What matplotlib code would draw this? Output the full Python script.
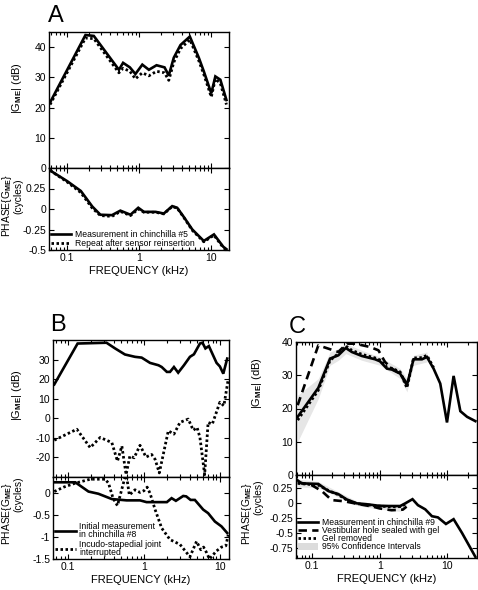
import numpy as np
import matplotlib
matplotlib.use('Agg')
import matplotlib.pyplot as plt
from matplotlib.ticker import FixedLocator, NullFormatter, LogLocator, FixedFormatter
from matplotlib.patches import Patch
from matplotlib.lines import Line2D

plt.rcParams['font.family'] = ['Liberation Sans', 'DejaVu Sans']
plt.rcParams['mathtext.fontset'] = 'custom'
plt.rcParams['mathtext.rm'] = 'Liberation Sans'
plt.rcParams['mathtext.bf'] = 'Liberation Sans:bold'
plt.rcParams['mathtext.it'] = 'Liberation Sans:italic'

# ---------------- Panel A data ----------------
a_mag_freq = [0.058, 0.18, 0.235, 0.525, 0.60, 0.745, 0.89, 1.11, 1.37, 1.75, 2.26, 2.59, 3.04,
              3.77, 5.08, 6.77, 7.94, 10.1, 11.5, 13.5, 16.4]
a_mag_meas = [21.7, 44.0, 43.7, 32.5, 34.8, 33.3, 31.1, 34.2, 32.5, 34.0, 33.3, 30.6, 36.5,
              40.7, 43.5, 36.5, 32.0, 24.7, 30.3, 29.2, 22.5]
a_mag_rep = [21.0, 43.0, 42.8, 31.5, 33.0, 32.0, 29.5, 31.5, 30.5, 32.0, 31.5, 29.0, 35.0,
             39.5, 42.5, 35.5, 31.0, 23.5, 29.5, 28.0, 21.0]
a_ph_freq = [0.058, 0.1, 0.155, 0.224, 0.29, 0.42, 0.55, 0.76, 0.975, 1.17, 1.7, 2.21, 2.89,
             3.39, 4.17, 5.5, 7.94, 11.0, 14.8, 16.4]
a_ph_meas = [0.47, 0.34, 0.22, 0.03, -0.07, -0.075, -0.02, -0.07, 0.015, -0.035, -0.035, -0.055,
             0.035, 0.015, -0.095, -0.25, -0.39, -0.31, -0.46, -0.49]
a_ph_rep = [0.47, 0.33, 0.20, 0.01, -0.08, -0.09, -0.03, -0.08, 0.0, -0.04, -0.04, -0.06,
            0.03, 0.01, -0.10, -0.26, -0.40, -0.32, -0.47, -0.50]

# ---------------- Panel B data ----------------
b_mag_freq = [0.0655, 0.133, 0.32, 0.415, 0.56, 0.76, 0.93, 1.2, 1.55, 1.71, 2.0, 2.2, 2.48,
              2.82, 3.36, 4.03, 4.55, 5.46, 5.9, 6.45, 7.16, 9.05, 10.0, 11.1, 12.5]
b_mag_init = [17.3, 38.2, 38.6, 35.7, 32.6, 31.4, 31.0, 28.3, 27.1, 26.2, 23.7, 23.7, 26.2,
              23.3, 27.1, 31.4, 32.7, 38.2, 38.6, 35.7, 36.9, 28.3, 26.5, 22.8, 30.5]
b_mag_isj_freq = [0.0655, 0.13, 0.195, 0.264, 0.376, 0.446, 0.51, 0.58, 0.65, 0.74, 0.885, 1.06,
                  1.26, 1.4, 1.59, 2.09, 2.48, 2.98, 3.83, 4.46, 5.01, 5.46, 6.3, 7.0, 7.95,
                  10.0, 11.3, 12.9]
b_mag_isj = [-11.2, -5.6, -15.0, -9.8, -12.4, -21.9, -14.2, -28.8, -19.3, -20.2, -13.8, -19.8,
             -18.5, -21.0, -27.9, -6.4, -8.1, -2.1, -0.4, -6.1, -4.7, -9.8, -28.8, -2.1, -3.0,
             8.2, 6.4, 20.0]
b_ph_freq = [0.0655, 0.124, 0.185, 0.25, 0.376, 0.59, 0.885, 1.08, 2.0, 2.31, 2.63, 3.29, 3.6,
             4.11, 4.68, 6.03, 7.0, 8.6, 10.5, 12.5]
b_ph_init = [0.24, 0.24, 0.03, -0.02, -0.14, -0.17, -0.17, -0.21, -0.21, -0.12, -0.18, -0.07,
             -0.08, -0.16, -0.16, -0.38, -0.46, -0.65, -0.76, -0.91]
b_ph_isj_freq = [0.0655, 0.087, 0.124, 0.195, 0.307, 0.34, 0.39, 0.446, 0.58, 0.64, 0.76, 0.885,
                 1.0, 1.1, 1.2, 1.4, 1.71, 2.2, 2.98, 4.03, 4.93, 5.6, 6.1, 6.7, 7.3, 9.0,
                 10.5, 12.0, 12.9]
b_ph_isj = [0.03, 0.13, 0.22, 0.31, 0.31, 0.22, -0.12, -0.29, 0.45, -0.05, 0.07, 0.01, 0.05,
            0.13, -0.01, -0.38, -0.8, -1.06, -1.17, -1.45, -1.1, -1.29, -1.23, -1.36, -1.5,
            -1.32, -1.23, -1.2, -0.95]

# ---------------- Panel C data ----------------
c_mag_freq = [0.0614, 0.124, 0.185, 0.245, 0.316, 0.388, 0.545, 0.857, 1.01, 1.28, 1.52, 2.01,
              2.53, 3.17, 4.22, 5.0, 6.27, 7.87, 9.9, 12.4, 15.6, 19.6, 26.0]
c_mag_meas = [17.5, 26.2, 35.0, 36.0, 38.2, 37.0, 35.8, 34.8, 34.2, 32.0, 31.7, 30.5,
              27.0, 34.8, 34.8, 35.5, 32.0, 27.5, 15.8, 29.8, 19.2, 17.5, 16.2]
c_mag_gel_freq = [0.0614, 0.124, 0.245, 0.327, 0.434, 0.72, 0.96, 1.2, 1.52, 2.01, 2.53]
c_mag_gel = [21.0, 39.0, 37.0, 39.5, 39.5, 38.5, 37.5, 34.0, 32.0, 30.5, 27.5]
c_mag_rem_freq = [0.0614, 0.124, 0.185, 0.245, 0.316, 0.388, 0.545, 0.857, 1.01, 1.28, 1.52,
                  2.01, 2.53, 3.17, 4.22, 5.0, 6.27]
c_mag_rem = [16.5, 25.5, 34.5, 36.5, 38.8, 37.5, 36.3, 35.2, 34.6, 32.4, 32.1, 31.0, 26.2,
             35.2, 35.3, 36.0, 32.3]
c_mag_ci_freq = [0.0614, 0.124, 0.185, 0.245, 0.316, 0.545, 1.01, 2.01, 2.53, 3.17, 5.0]
c_mag_ci_lo = [10.0, 23.0, 33.0, 34.5, 36.5, 34.5, 33.0, 29.0, 25.0, 33.0, 34.0]
c_mag_ci_hi = [24.0, 29.0, 37.0, 38.0, 39.5, 37.5, 35.5, 32.0, 29.0, 36.0, 37.0]

c_ph_freq = [0.0614, 0.07, 0.124, 0.175, 0.245, 0.327, 0.46, 0.645, 0.96, 1.35, 2.01, 2.39,
             3.06, 3.68, 4.72, 5.93, 7.27, 9.55, 12.4, 16.5, 21.2, 26.0]
c_ph_meas = [0.38, 0.33, 0.32, 0.2, 0.15, 0.06, -0.005, -0.02, -0.045, -0.05, -0.05, -0.005,
             0.065, -0.035, -0.105, -0.22, -0.24, -0.35, -0.27, -0.5, -0.72, -0.9]
c_ph_gel_freq = [0.0614, 0.099, 0.14, 0.195, 0.3, 0.5, 0.8, 1.0, 1.5, 2.2, 2.5]
c_ph_gel = [0.35, 0.3, 0.2, 0.05, 0.03, -0.02, -0.06, -0.09, -0.12, -0.11, -0.06]
c_ph_rem_freq = [0.0614, 0.124, 0.175, 0.245, 0.327, 0.46, 0.645, 0.96, 1.35, 2.01, 2.39]
c_ph_rem = [0.33, 0.30, 0.21, 0.14, 0.05, -0.01, -0.03, -0.05, -0.06, -0.06, -0.02]
c_ph_ci_freq = [0.0614, 0.124, 0.245, 0.46, 0.96, 2.01, 2.5]
c_ph_ci_lo = [0.27, 0.26, 0.10, -0.04, -0.10, -0.14, -0.06]
c_ph_ci_hi = [0.40, 0.36, 0.19, 0.03, -0.01, -0.02, 0.02]

x_ticks = [0.1, 1, 10]
x_tick_labels = ['0.1', '1', '10']

# ---------------- figure ----------------
W, H = 478, 590
fig = plt.figure(figsize=(W / 100, H / 100), dpi=100)


def ax_px(left, right, top, bottom):
    return fig.add_axes([left / W, 1 - bottom / H, (right - left) / W, (bottom - top) / H])


TICK_FS = 7.5
LAB_FS = 8
LEG_FS = 6.2
LW = 1.9
DOT = dict(lw=2.0, linestyle=(0, (0.9, 0.9)), color='black')
SOLID = dict(lw=LW, color='black', solid_joinstyle='miter')
DASH = dict(lw=1.9, linestyle=(0, (3.2, 2.0)), color='black')
CI_COLOR = '#e6e6e6'


def style(ax, xlim, ylim, yticks, ylabels, xlabels):
    ax.set_xscale('log')
    ax.set_xlim(*xlim)
    ax.set_ylim(*ylim)
    ax.xaxis.set_major_locator(FixedLocator(x_ticks))
    ax.xaxis.set_minor_locator(LogLocator(base=10, subs=np.arange(2, 10)))
    ax.xaxis.set_minor_formatter(NullFormatter())
    if xlabels:
        ax.xaxis.set_major_formatter(FixedFormatter(x_tick_labels))
    else:
        ax.xaxis.set_major_formatter(NullFormatter())
    ax.yaxis.set_major_locator(FixedLocator(yticks))
    ax.yaxis.set_major_formatter(FixedFormatter(ylabels))
    ax.tick_params(which='both', direction='in', top=True, right=True, labelsize=TICK_FS,
                   width=0.8, pad=2)
    ax.tick_params(which='major', length=3.5)
    ax.tick_params(which='minor', length=2)
    for s in ax.spines.values():
        s.set_linewidth(1.0)


# ---- Panel A ----
axAm = ax_px(49, 229, 32, 168)
axAp = ax_px(49, 229, 168, 250)
axAm.plot(a_mag_freq, a_mag_rep, **DOT)
axAm.plot(a_mag_freq, a_mag_meas, **SOLID)
style(axAm, (0.056, 17.8), (0, 45), [0, 10, 20, 30, 40], ['0', '10', '20', '30', '40'], False)
axAp.plot(a_ph_freq, a_ph_rep, **DOT)
axAp.plot(a_ph_freq, a_ph_meas, **SOLID)
style(axAp, (0.056, 17.8), (-0.5, 0.5), [0.25, 0, -0.25, -0.5], ['0.25', '0', '-0.25', '-0.5'], True)
legA = axAp.legend(handles=[Line2D([], [], **SOLID), Line2D([], [], **DOT)],
                   labels=['Measurement in chinchilla #5', 'Repeat after sensor reinsertion'],
                   loc='lower left', bbox_to_anchor=(0.0, 0.0), frameon=False, fontsize=LEG_FS,
                   handlelength=2.4, handletextpad=0.45, labelspacing=0.0, borderpad=0.1,
                   borderaxespad=0.1)

# ---- Panel B ----
axBm = ax_px(53, 229, 340, 477)
axBp = ax_px(53, 229, 477, 559)
axBm.plot(b_mag_isj_freq, b_mag_isj, **DOT)
axBm.plot(b_mag_freq, b_mag_init, **SOLID)
style(axBm, (0.063, 13.2), (-30, 40), [-20, -10, 0, 10, 20, 30],
      ['-20', '-10', '0', '10', '20', '30'], False)
axBp.plot(b_ph_isj_freq, b_ph_isj, **DOT)
axBp.plot(b_ph_freq, b_ph_init, **SOLID)
style(axBp, (0.063, 13.2), (-1.5, 0.36), [0, -0.5, -1, -1.5], ['0', '-0.5', '-1', '-1.5'], True)
legB = axBp.legend(handles=[Line2D([], [], **SOLID), Line2D([], [], **DOT)],
                   labels=['Initial measurement\nin chinchilla #8',
                           'Incudo-stapedial joint\ninterrupted'],
                   loc='lower left', bbox_to_anchor=(0.0, 0.0), frameon=False, fontsize=LEG_FS,
                   handlelength=2.4, handletextpad=0.4, labelspacing=0.2, borderpad=0.1,
                   borderaxespad=0.15)
for t in legB.get_texts():
    t.set_linespacing(0.8)

# ---- Panel C ----
axCm = ax_px(296, 477, 342, 475)
axCp = ax_px(296, 477, 475, 558)
axCm.fill_between(c_mag_ci_freq, c_mag_ci_lo, c_mag_ci_hi, color=CI_COLOR, lw=0)
axCm.plot(c_mag_gel_freq, c_mag_gel, **DASH)
axCm.plot(c_mag_rem_freq, c_mag_rem, **DOT)
axCm.plot(c_mag_freq, c_mag_meas, **SOLID)
style(axCm, (0.058, 27.5), (0, 40), [0, 10, 20, 30, 40], ['0', '10', '20', '30', '40'], False)
axCp.fill_between(c_ph_ci_freq, c_ph_ci_lo, c_ph_ci_hi, color=CI_COLOR, lw=0)
axCp.plot(c_ph_gel_freq, c_ph_gel, **DASH)
axCp.plot(c_ph_rem_freq, c_ph_rem, **DOT)
axCp.plot(c_ph_freq, c_ph_meas, **SOLID)
style(axCp, (0.058, 27.5), (-0.92, 0.47), [0.25, 0, -0.25, -0.5, -0.75],
      ['0.25', '0', '-0.25', '-0.5', '-0.75'], True)
legC = axCp.legend(handles=[Line2D([], [], **SOLID), Line2D([], [], **DASH),
                            Line2D([], [], **DOT), Patch(facecolor='#dcdcdc', edgecolor='none')],
                   labels=['Measurement in chinchilla #9', 'Vestibular hole sealed with gel',
                           'Gel removed', '95% Confidence Intervals'],
                   loc='lower left', bbox_to_anchor=(0.0, 0.06), frameon=False, fontsize=LEG_FS,
                   handlelength=2.4, handleheight=0.9, handletextpad=0.4, labelspacing=-0.1,
                   borderpad=0.1, borderaxespad=0.1)

# ---- x labels ----
for ax in (axAp, axBp, axCp):
    ax.set_xlabel('FREQUENCY (kHz)', fontsize=LAB_FS, labelpad=2)

# ---- y labels ----
mag_lab = r'|G$_{\mathbf{ME}}$| (dB)'
ph_lab = r'PHASE{G$_{\mathbf{ME}}$}'


def ylab(x, y, s, fs=LAB_FS):
    fig.text(x / W, 1 - y / H, s, rotation=90, ha='center', va='center', fontsize=fs)


ylab(17, 88, mag_lab)
ylab(7, 206, ph_lab, 7.4)
ylab(18, 196, '(cycles)', 7.4)
ylab(17, 395, mag_lab)
ylab(7, 514, ph_lab, 7.4)
ylab(18, 494, '(cycles)', 7.4)
ylab(257, 383, mag_lab)
ylab(247, 514, ph_lab, 7.4)
ylab(258, 497, '(cycles)', 7.4)

# ---- panel letters ----
for x, y, s in [(48, 22, 'A'), (50, 331, 'B'), (289, 333, 'C')]:
    fig.text(x / W, 1 - y / H, s, fontsize=17, ha='left', va='baseline')

fig.savefig('out.png', dpi=100)
